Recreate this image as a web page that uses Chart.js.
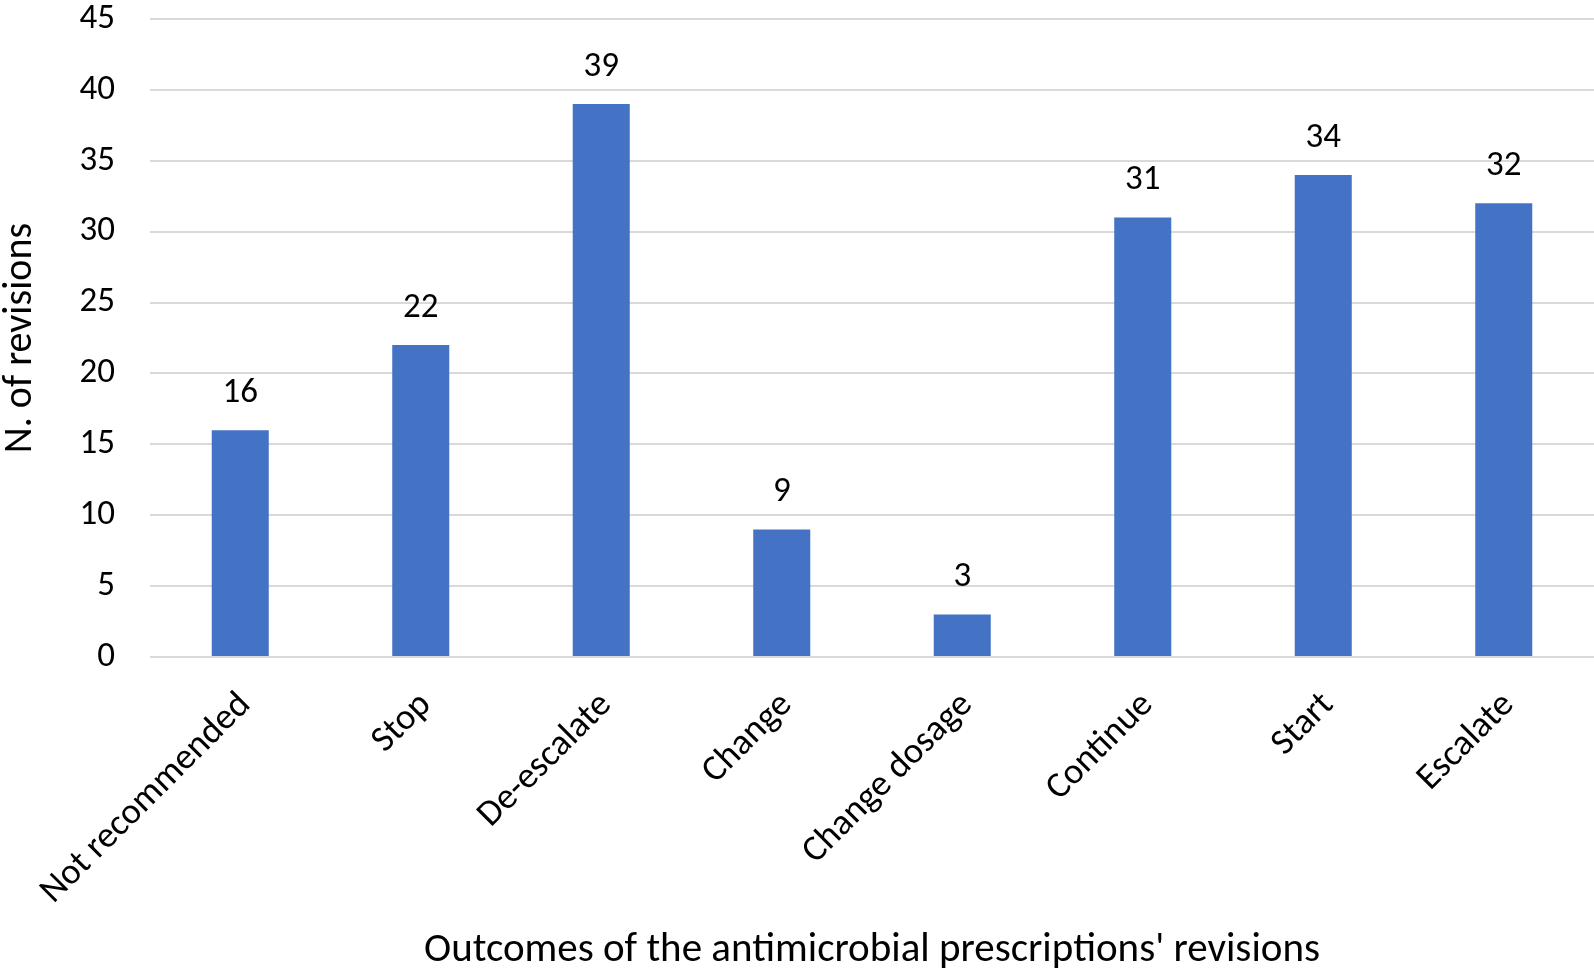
<!DOCTYPE html>
<html>
<head>
<meta charset="utf-8">
<script src="https://cdn.jsdelivr.net/npm/chart.js@4"></script>
<style>
  html, body { margin: 0; padding: 0; background: #ffffff; }
  #wrap { width: 1594px; height: 975px; }
</style>
</head>
<body>
<div id="wrap"><canvas id="revisionsChart" width="1594" height="975"></canvas></div>
<script>
const categories = [
    'Not recommended',
    'Stop',
    'De-escalate',
    'Change',
    'Change dosage',
    'Continue',
    'Start',
    'Escalate'
];

const revisions = [16, 22, 39, 9, 3, 31, 34, 32];

const yTicks = [0, 5, 10, 15, 20, 25, 30, 35, 40, 45];

const fontFamily = 'Carlito, Calibri, "Open Sans", sans-serif';

// draws the value above each bar
const valueLabels = {
    id: 'valueLabels',
    afterDatasetsDraw(chart) {
        const ctx = chart.ctx;
        const meta = chart.getDatasetMeta(0);
        ctx.save();
        ctx.font = '35px ' + fontFamily;
        ctx.fillStyle = '#000000';
        ctx.textAlign = 'center';
        ctx.textBaseline = 'middle';
        meta.data.forEach((bar, i) => {
            ctx.fillText(String(revisions[i]), bar.x, bar.y - 37);
        });
        ctx.restore();
    }
};

const ctx = document.getElementById('revisionsChart');

new Chart(ctx, {

    type: 'bar',

    data: {
        labels: categories,
        datasets: [{
            data: revisions,
            backgroundColor: '#4472C4',
            borderWidth: 0,
            categoryPercentage: 1,
            barPercentage: 0.316
        }]
    },

    options: {
        responsive: false,
        animation: false,
        layout: {
            padding: { top: 19, right: 0, bottom: 0, left: 0 }
        },
        plugins: {
            legend: { display: false },
            tooltip: { enabled: false }
        },
        scales: {
            x: {
                grid: { display: false, drawTicks: false },
                border: { display: false },
                ticks: {
                    color: '#000000',
                    font: { family: fontFamily, size: 36.5 },
                    minRotation: 45,
                    maxRotation: 45,
                    padding: 27,
                    labelOffset: 5,
                    autoSkip: false
                },
                title: {
                    display: true,
                    text: "Outcomes of the antimicrobial prescriptions' revisions",
                    color: '#000000',
                    font: { family: fontFamily, size: 41, lineHeight: 1 },
                    padding: { top: 0, bottom: 4 }
                },
                afterFit(scale) {
                    scale.height = 318;
                    scale.paddingLeft = 0;
                    scale.paddingRight = 0;
                }
            },
            y: {
                min: 0,
                max: 45,
                afterBuildTicks(scale) {
                    scale.ticks = yTicks.map(v => ({ value: v }));
                },
                grid: {
                    color: '#D9D9D9',
                    lineWidth: 2,
                    drawTicks: false
                },
                border: { display: false },
                ticks: {
                    color: '#000000',
                    font: { family: fontFamily, size: 35 },
                    padding: 35
                },
                title: {
                    display: true,
                    text: 'N. of revisions',
                    color: '#000000',
                    font: { family: fontFamily, size: 40, lineHeight: 1 },
                    padding: { top: 1, bottom: 0 }
                },
                afterFit(scale) {
                    scale.width = 150;
                    scale.paddingTop = 0;
                    scale.paddingBottom = 0;
                }
            }
        }
    },

    plugins: [valueLabels]

});
</script>
</body>
</html>
